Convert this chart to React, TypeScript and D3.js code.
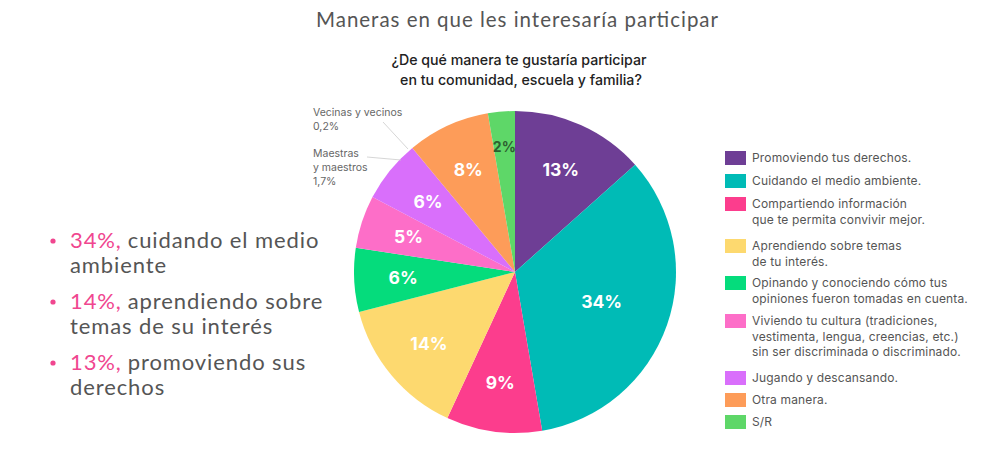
import { pie, arc } from "d3";

const width = 993;
const height = 464;

const centerX = 515;
const centerY = 272;
const radius = 161;

const categories = [
  "Promoviendo tus derechos.",
  "Cuidando el medio ambiente.",
  "Compartiendo información\nque te permita convivir mejor.",
  "Aprendiendo sobre temas\nde tu interés.",
  "Opinando y conociendo cómo tus\nopiniones fueron tomadas en cuenta.",
  "Viviendo tu cultura (tradiciones,\nvestimenta, lengua, creencias, etc.)\nsin ser discriminada o discriminado.",
  "Jugando y descansando.",
  "Otra manera.",
  "S/R",
];
// share of the circle
const shares = [13.4, 33.9, 9.6, 14.1, 6.4, 5.3, 6.3, 8.3, 2.7];
const sliceLabels = ["13%", "34%", "9%", "14%", "6%", "5%", "6%", "8%", "2%"];
const colors = [
  "#6e3e95",
  "#00bbb6",
  "#fc3d8d",
  "#fdd96f",
  "#05dc7c",
  "#fd6ec8",
  "#d96ffb",
  "#fd9c59",
  "#5ed768",
];
// legend rows start at these y positions
const legendY = [151, 174, 197, 239, 276, 314, 371, 393, 415];

const highlights = [
  { pct: "34%,", lines: ["cuidando el medio", "ambiente"] },
  { pct: "14%,", lines: ["aprendiendo sobre", "temas de su interés"] },
  { pct: "13%,", lines: ["promoviendo sus", "derechos"] },
];

const pieGen = pie<number>().sort(null).value((d) => d);
const pieArc = arc<any>().innerRadius(0).outerRadius(radius);
const labelArc = arc<any>().innerRadius(112).outerRadius(112);

const App = () => {
  const slices = pieGen(shares);
  return (
    <svg
      width={width}
      height={height}
      style={{ position: "absolute", left: 0, top: 0, background: "#fff" }}
      fontFamily="Inter, 'Open Sans', sans-serif"
    >
      <text
        x={316}
        y={27}
        textLength={402}
        lengthAdjust="spacing"
        fontFamily="Lato, sans-serif"
        fontSize={20.5}
        fill="#555"
      >
        Maneras en que les interesaría participar
      </text>
      <text x={519} y={65} textAnchor="middle" fontSize={14.2} fontWeight={500} fill="#222">
        ¿De qué manera te gustaría participar
      </text>
      <text x={521} y={85} textAnchor="middle" fontSize={14.2} fontWeight={500} fill="#222">
        en tu comunidad, escuela y familia?
      </text>

      <g transform={`translate(${centerX},${centerY})`}>
        {slices.map((d, i) => (
          <path key={i} d={pieArc(d) || ""} fill={colors[i]} />
        ))}
        {slices.map((d, i) => {
          const [x, y] = labelArc.centroid(d);
          const big = shares[i] > 30;
          const small = shares[i] < 3;
          const k = big ? 0.82 : small ? 1.12 : 1;
          return (
            <text
              key={i}
              x={x * k}
              y={y * k}
              dy="0.35em"
              textAnchor="middle"
              fontSize={small ? 14 : 17.5}
              fontWeight={700}
              fill={small ? "#2d5f30" : "#fff"}
            >
              {sliceLabels[i]}
            </text>
          );
        })}
      </g>

      {/* small notes */}
      <line x1={383} y1={122} x2={408} y2={149} stroke="#ccc" strokeWidth={0.8} />
      <line x1={367} y1={157} x2={401} y2={160} stroke="#ccc" strokeWidth={0.8} />
      <g fontSize={10.5} fill="#666">
        <text x={313} y={116}>Vecinas y vecinos</text>
        <text x={313} y={130}>0,2%</text>
        <text x={313} y={157}>Maestras</text>
        <text x={313} y={171}>y maestros</text>
        <text x={313} y={185}>1,7%</text>
      </g>

      {/* legend */}
      <g>
        {categories.map((c, i) => (
          <g key={i} transform={`translate(725,${legendY[i]})`}>
            <rect width={21} height={14} fill={colors[i]} />
            {c.split("\n").map((line, j) => (
              <text
                key={j}
                x={27}
                y={11 + j * 15.5}
                fontSize={12}
                letterSpacing={0.15}
                fill="#555"
              >
                {line}
              </text>
            ))}
          </g>
        ))}
      </g>

      {/* highlights */}
      <g fontFamily="Lato, sans-serif" fontSize={22} letterSpacing={0.9}>
        {highlights.map((h, i) => (
          <g key={i} transform={`translate(0,${248 + i * 61})`}>
            <circle cx={53} cy={-7} r={2.6} fill="#f0468f" />
            <text x={70} y={0} fill="#555">
              <tspan fill="#f0468f">{h.pct}</tspan>
              <tspan dx={6}>{h.lines[0]}</tspan>
            </text>
            <text x={70} y={25} fill="#555">
              {h.lines[1]}
            </text>
          </g>
        ))}
      </g>
    </svg>
  );
};

export default App;
